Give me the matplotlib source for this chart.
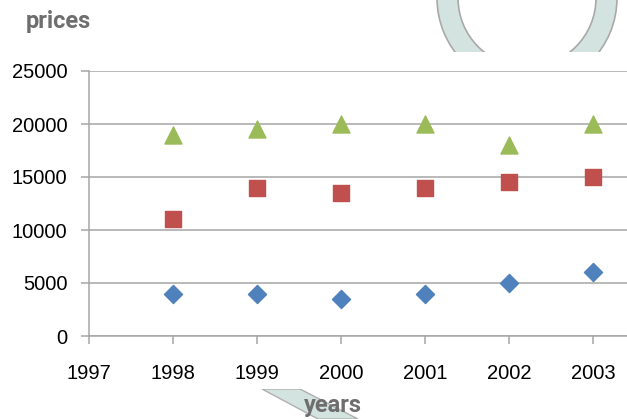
import matplotlib
matplotlib.use('Agg')
import matplotlib.pyplot as plt
from matplotlib.patches import Wedge, Polygon, Rectangle

# data
years = [1998, 1999, 2000, 2001, 2002, 2003]
blue_vals = [4000, 4000, 3500, 4000, 5000, 6000]
red_vals = [11000, 14000, 13500, 14000, 14500, 15000]
green_vals = [19000, 19500, 20000, 20000, 18000, 20000]
x_ticks = [1997, 1998, 1999, 2000, 2001, 2002, 2003]
y_ticks = [0, 5000, 10000, 15000, 20000, 25000]

W, H = 627, 419
fig = plt.figure(figsize=(W / 100, H / 100), dpi=100)
fig.patch.set_facecolor('white')

# pixel coords (y from top) -> figure fraction
def px(x, y):
    return (x / W, 1 - y / H)

# watermark behind the chart, drawn in display pixels so the ring stays round
fig.patches.append(Wedge((527, H + 2), 90, 0, 360, width=21, transform=None,
                         facecolor='#d3e3df', edgecolor='#a9a9a9', lw=1.2, zorder=-3))
band = Polygon([px(262, 389), px(300, 389), px(358, 419), px(318, 419)],
               closed=True, transform=fig.transFigure,
               facecolor='#d3e3df', edgecolor='#b0b0b0', lw=1.0, zorder=-3)
fig.patches.append(band)
# white chart area covering the watermark
fig.patches.append(Rectangle(px(0, 389), 1, (389 - 52) / H, transform=fig.transFigure,
                             facecolor='white', edgecolor='none', zorder=-2))

ax = fig.add_axes([89 / W, (H - 336) / H, 1 - 89 / W, (336 - 71) / H])
ax.set_facecolor('none')

ax.scatter(years, blue_vals, marker='D', s=85, color='#4f81bd', zorder=3)
ax.scatter(years, red_vals, marker='s', s=140, color='#c0504d', zorder=3)
ax.scatter(years, green_vals, marker='^', s=150, color='#9bbb59', zorder=3)

ax.set_xlim(1997, 1997 + (W - 89) / 84)
ax.set_ylim(0, 25000)
ax.set_xticks(x_ticks)
ax.set_yticks(y_ticks)
ax.grid(axis='y', color='#a6a6a6', lw=1.1)
ax.set_axisbelow(True)

for s in ['top', 'right']:
    ax.spines[s].set_visible(False)
for s in ['left', 'bottom']:
    ax.spines[s].set_color('#a6a6a6')
    ax.spines[s].set_linewidth(1.1)

tick_font = ['Liberation Sans', 'DejaVu Sans']
ax.tick_params(axis='both', colors='#a6a6a6', length=5.5, width=1.1, labelcolor='black')
ax.tick_params(axis='y', pad=10)
ax.tick_params(axis='x', pad=15)
for lab in ax.get_xticklabels() + ax.get_yticklabels():
    lab.set_family(tick_font)
    lab.set_fontsize(14.5)

fig.text(26 / W, 1 - 28 / H, 'prices', fontsize=17, fontweight='bold', color='#6e6e6e',
         family=['Roboto', 'DejaVu Sans'], ha='left', va='baseline')
fig.text(333 / W, 1 - 412 / H, 'years', fontsize=17, fontweight='bold', color='#6e6e6e',
         family=['Roboto', 'DejaVu Sans'], ha='center', va='baseline')

fig.savefig('out.png', dpi=100)
